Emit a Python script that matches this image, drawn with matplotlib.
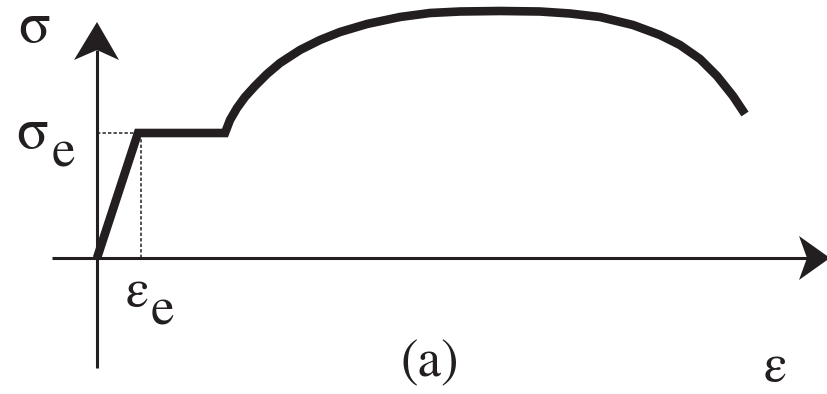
import matplotlib.pyplot as plt
from matplotlib.patches import Polygon

# stress-strain curve (arbitrary units)
strain = [0.0, 4.1, 12.8, 13.3, 14.0, 14.8, 15.8, 17.0, 18.3, 20.3, 22.3, 24.3,
          27.0, 30.3, 33.3, 36.3, 40.3, 44.3, 47.3, 50.3, 53.6, 56.3, 58.3,
          60.3, 62.0, 63.6, 64.8]
stress = [0.0, 12.5, 12.5, 13.8, 15.0, 16.1, 17.2, 18.4, 19.5, 20.8, 21.8, 22.6,
          23.4, 24.1, 24.5, 24.65, 24.7, 24.65, 24.45, 24.1, 23.3, 22.3, 21.3,
          19.9, 18.2, 16.2, 14.4]
eps_e = 4.1
sig_e = 12.5

ink = '#231f20'
serif = ['STIXGeneral', 'Liberation Serif', 'DejaVu Serif']

fig = plt.figure(figsize=(8.28, 3.94), dpi=100)
ax = fig.add_axes([0, 0, 1, 1])
ax.set_xlim(-9.7, 73.1)
ax.set_ylim(-13.6, 25.8)
ax.axis('off')

# axes with arrow heads
ax.plot([-4.5, 71.0], [0, 0], color=ink, lw=2.2, solid_capstyle='butt')
ax.plot([0, 0], [-11.0, 20.8], color=ink, lw=2.2, solid_capstyle='butt')
ax.add_patch(Polygon([[70.2, 2.2], [73.3, 0], [70.2, -2.2], [71.0, 0]],
                     closed=True, color=ink, lw=0))
ax.add_patch(Polygon([[-2.3, 19.8], [0, 23.6], [2.2, 19.8], [0, 20.8]],
                     closed=True, color=ink, lw=0))

# yield guide lines
ax.plot([0, eps_e], [sig_e, sig_e], color=ink, lw=1.1, ls=(0, (2.2, 1.4)))
ax.plot([eps_e + 0.3, eps_e + 0.3], [0, sig_e], color=ink, lw=1.1, ls=(0, (2.2, 1.4)))

ax.plot(strain, stress, color=ink, lw=6.2, solid_joinstyle='miter',
        solid_capstyle='butt')

# labels
fs = 38
fs_sig = 42
ax.text(-6.3, 22.9, 'σ', fontsize=fs_sig, family=serif, color=ink, ha='center', va='center')
ax.text(-6.5, 12.3, 'σ', fontsize=fs_sig, family=serif, color=ink, ha='center', va='center')
ax.text(-3.4, 10.4, 'e', fontsize=fs, family=serif, color=ink, ha='center', va='center')
ax.text(4.0, -3.5, 'ε', fontsize=fs, family=serif, color=ink, ha='center', va='center')
ax.text(6.5, -5.4, 'e', fontsize=fs, family=serif, color=ink, ha='center', va='center')
ax.text(33.3, -10.6, '(a)', fontsize=fs, family=serif, color=ink, ha='center', va='center')
ax.text(67.8, -11.0, 'ε', fontsize=fs, family=serif, color=ink, ha='center', va='center')

fig.savefig('out.png', dpi=100)
